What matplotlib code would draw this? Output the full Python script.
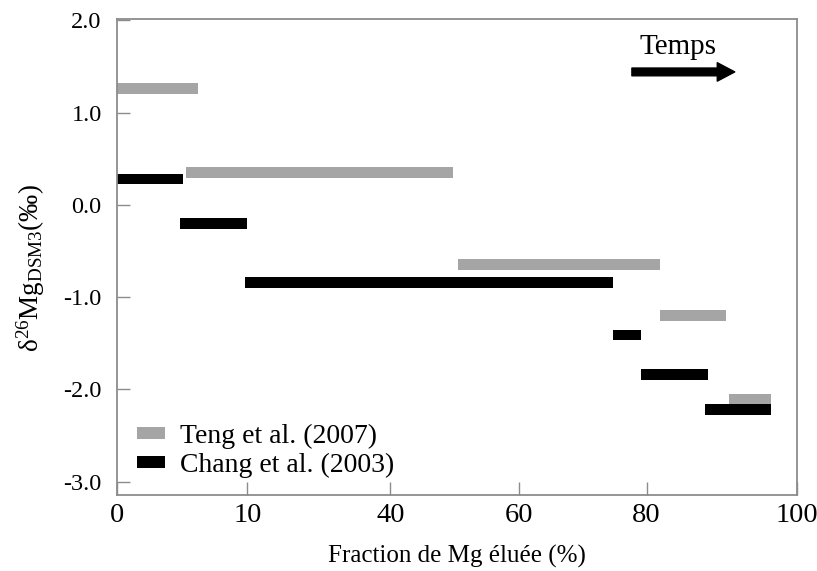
import numpy as np
import matplotlib
matplotlib.use("Agg")
import matplotlib.pyplot as plt
from matplotlib.patches import Patch

# --- données ---
# axe x non linéaire : graduations et leur position relative (px) sur l'axe
X_TICKS = [0, 10, 40, 60, 80, 100]
X_POS = [0, 130.2, 273.2, 401.5, 529.2, 679.8]

# Teng et al. (2007) : début, fin (% éluée), delta26Mg
teng_start = [0.0, 5.3, 50.6, 81.8, 91.0]
teng_end = [6.2, 49.7, 81.8, 90.6, 96.5]
teng_val = [1.26, 0.35, -0.65, -1.20, -2.11]

# Chang et al. (2003)
chang_start = [0.0, 4.8, 9.8, 74.7, 79.1, 87.8]
chang_end = [5.1, 10.0, 74.8, 79.2, 88.1, 96.5]
chang_val = [0.28, -0.20, -0.84, -1.41, -1.84, -2.22]

Y_TICKS = [2.0, 1.0, 0.0, -1.0, -2.0, -3.0]

GRAY = "#a5a5a5"
SPINE = "#8c8c8c"

plt.rcParams["font.family"] = ["Liberation Serif", "DejaVu Serif"]
plt.rcParams["mathtext.fontset"] = "custom"
plt.rcParams["mathtext.rm"] = "Liberation Serif"
plt.rcParams["mathtext.it"] = "Liberation Serif:italic"
plt.rcParams["axes.unicode_minus"] = False


def fwd(v):
    return np.interp(v, X_TICKS, X_POS)


def inv(p):
    return np.interp(p, X_POS, X_TICKS)


fig = plt.figure(figsize=(8.17, 5.71), dpi=100)
ax = fig.add_axes([0.1432, 0.1336, 0.8327, 0.8326])
ax.set_xscale("function", functions=(fwd, inv))

h = 0.118
ax.barh(teng_val, np.subtract(teng_end, teng_start), left=teng_start,
        height=h, color=GRAY, linewidth=0)
ax.barh(chang_val, np.subtract(chang_end, chang_start), left=chang_start,
        height=h, color="black", linewidth=0)

ax.set_xlim(0, 100)
ax.set_ylim(-3.14, 2.01)
ax.set_xticks(X_TICKS)
ax.set_xticklabels([str(t) for t in X_TICKS])
ax.set_yticks(Y_TICKS)
ax.set_yticklabels([f"{t:.1f}" for t in Y_TICKS])
ax.minorticks_off()

for s in ax.spines.values():
    s.set_color(SPINE)
    s.set_linewidth(1.3)
ax.tick_params(axis="both", direction="in", length=9.5, width=1.0, color=SPINE)
ax.tick_params(axis="y", pad=11, labelsize=17.5)
ax.tick_params(axis="x", pad=6, labelsize=20.5)

ax.set_xlabel("Fraction de Mg éluée (%)", fontsize=18, labelpad=12)
ax.set_ylabel(r"δ$^{26}$Mg$_{\mathrm{DSM3}}$(‰)", fontsize=19.5)
ax.yaxis.set_label_coords(-0.103, 0.477)

# flèche "Temps"
ax.annotate("", xy=(91.7, 1.44), xytext=(77.7, 1.44),
            arrowprops=dict(arrowstyle="simple,head_length=0.9,head_width=0.95,tail_width=0.4",
                            color="black", mutation_scale=14, shrinkA=0, shrinkB=0))
ax.text(84.2, 1.71, "Temps", fontsize=21, ha="center", va="center")

handles = [Patch(facecolor=GRAY, edgecolor="none"),
           Patch(facecolor="black", edgecolor="none")]
ax.legend(handles, ["Teng et al. (2007)", "Chang et al. (2003)"],
          loc="lower left", bbox_to_anchor=(0.029, 0.035), frameon=False,
          fontsize=20, handlelength=1.0, handleheight=0.3,
          handletextpad=0.55, labelspacing=0.15, borderaxespad=0, borderpad=0)

fig.savefig("out.png", dpi=100)
